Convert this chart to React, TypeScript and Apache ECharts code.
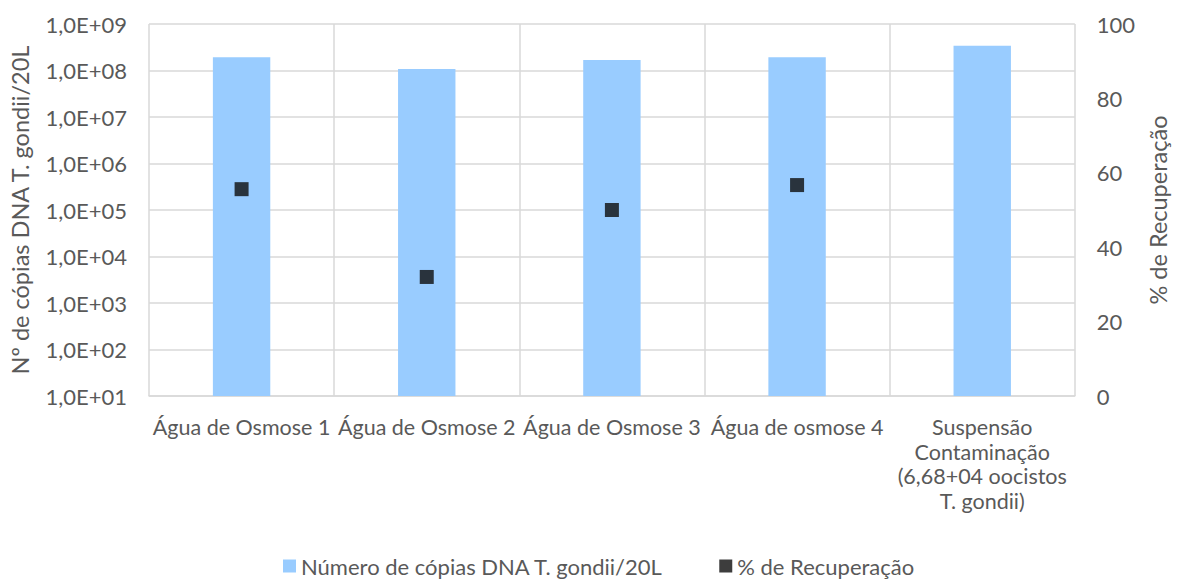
import React, { useEffect, useRef } from "react";
import * as echarts from "echarts";

const categories = [
  "Água de Osmose 1",
  "Água de Osmose 2",
  "Água de Osmose 3",
  "Água de osmose 4",
  "Suspensão\nContaminação\n(6,68+04 oocistos\nT. gondii)",
];
const copies = [1.92e8, 1.08e8, 1.68e8, 1.92e8, 3.42e8];
const recovery = [55.6, 32.0, 50.0, 56.7, null];
const seriesNames = ["Número de cópias DNA T. gondii/20L", "% de Recuperação"];
const leftAxisName = "Nº de cópias DNA T. gondii/20L";
const rightAxisName = "% de Recuperação";

const FONT = "Lato";
const GRAY = "#595959";
const FS = 22;
const NAME_FS = 23.5;

export default function App() {
  const ref = useRef<HTMLDivElement>(null);
  useEffect(() => {
    const chart = echarts.init(ref.current!, null, { renderer: "svg" });
    chart.setOption({
      animation: false,
      textStyle: { fontFamily: FONT },
      grid: { left: 148, right: 102, top: 24, bottom: 183, containLabel: false },
      legend: {
        top: 555,
        left: 283,
        padding: 0,
        itemGap: 56,
        itemWidth: 13,
        itemHeight: 13,
        textStyle: { fontFamily: FONT, fontSize: FS, color: GRAY },
        data: [
          { name: seriesNames[0], icon: "rect" },
          { name: seriesNames[1], icon: "rect" },
        ],
      },
      xAxis: {
        type: "category",
        data: categories,
        axisLine: { show: true, lineStyle: { color: "#D9D9D9", width: 1.5 } },
        axisTick: { show: false },
        splitLine: { show: true, lineStyle: { color: "#D9D9D9", width: 1.5 } },
        axisLabel: {
          interval: 0,
          margin: 19,
          color: GRAY,
          fontFamily: FONT,
          fontSize: 21.5,
          lineHeight: 24.5,
        },
      },
      yAxis: [
        {
          type: "log",
          logBase: 10,
          min: 10,
          max: 1e9,
          splitNumber: 8,
          name: leftAxisName,
          nameLocation: "middle",
          nameGap: 117,
          nameTextStyle: { color: GRAY, fontFamily: FONT, fontSize: NAME_FS },
          axisLine: { show: false },
          axisTick: { show: false },
          splitLine: { show: true, lineStyle: { color: "#D9D9D9", width: 1.5 } },
          axisLabel: {
            color: GRAY,
            fontFamily: FONT,
            fontSize: FS,
            margin: 22,
            formatter: (v: number) => {
              const e = Math.round(Math.log10(v));
              return "1,0E+" + (e < 10 ? "0" + e : String(e));
            },
          },
        },
        {
          type: "value",
          min: 0,
          max: 100,
          interval: 20,
          name: rightAxisName,
          nameLocation: "middle",
          nameGap: 68,
          nameRotate: 90,
          nameTextStyle: { color: GRAY, fontFamily: FONT, fontSize: NAME_FS },
          axisLine: { show: false },
          axisTick: { show: false },
          splitLine: { show: false },
          axisLabel: { color: GRAY, fontFamily: FONT, fontSize: FS, margin: 22 },
        },
      ],
      series: [
        {
          name: seriesNames[0],
          type: "bar",
          yAxisIndex: 0,
          data: copies,
          barWidth: "31%",
          clip: true,
          itemStyle: { color: "#99CCFF" },
        },
        {
          name: seriesNames[1],
          type: "scatter",
          yAxisIndex: 1,
          data: recovery,
          symbol: "rect",
          symbolSize: 14,
          itemStyle: { color: "#0D0D0D" },
        },
      ],
    });
    return () => chart.dispose();
  }, []);
  return (
    <div
      ref={ref}
      style={{ position: "absolute", left: 0, top: 0, width: 1178, height: 579 }}
    />
  );
}
